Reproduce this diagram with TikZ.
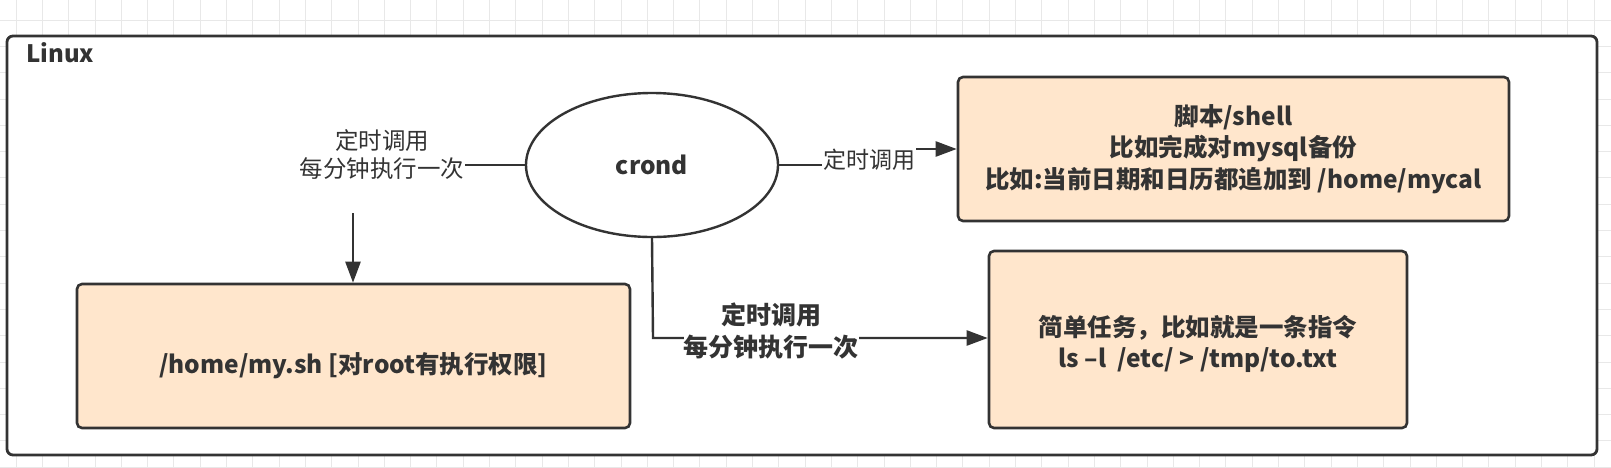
\documentclass[tikz,border=0pt]{standalone}
\usepackage{fontspec}
\setmainfont{Noto Sans CJK SC}
\usetikzlibrary{arrows.meta,shapes.geometric}
\definecolor{ink}{HTML}{333333}
\definecolor{peach}{HTML}{FFE6CC}
\definecolor{gridc}{HTML}{E8E8E8}
\tikzset{
  box/.style={draw=ink, line width=2.6pt, fill=peach, rounded corners=5pt, inner sep=0pt, text=ink, font=\fontsize{24.5}{31.5}\selectfont\bfseries, align=center},
  boxtext/.style={inner sep=0pt, text=ink, font=\fontsize{24.5}{31.5}\selectfont\bfseries, align=center},
  conn/.style={draw=ink, line width=2.4pt},
  arr/.style={conn, -{Triangle[length=21pt,width=15pt]}},
  lbl/.style={text=ink, inner sep=1pt, align=center, font=\fontsize{23.5}{28}\selectfont},
}
\begin{document}
\begin{tikzpicture}[x=1pt,y=-1pt]
\useasboundingbox (0,0) rectangle (1611,467);
\fill[white] (0,0) rectangle (1611,467);
\foreach \i in {0,...,61} {\draw[gridc, line width=0.8pt] (16+26.3*\i,0) -- (16+26.3*\i,467);}
\foreach \j in {0,...,17} {\draw[gridc, line width=0.8pt] (0,20+26.3*\j) -- (1611,20+26.3*\j);}
\node[draw=ink, line width=2.8pt, fill=white, rounded corners=6pt, minimum width=1590pt, minimum height=419pt, inner sep=0pt] (linux) at (802,245.5) {};
\node[anchor=west, text=ink, font=\fontsize{24}{26}\selectfont\bfseries, inner sep=0pt] (title) at (26,53) {Linux};
\node[draw=ink, line width=2.4pt, ellipse, minimum width=252pt, minimum height=144pt, inner sep=0pt, text=ink, font=\fontsize{24.5}{28}\selectfont\bfseries] (crond) at (652,165) {crond};
\node[box, minimum width=553pt, minimum height=144pt] (mysh) at (353.5,356) {};
\node[boxtext] (myshtxt) at (353.5,366) {/home/my.sh [对root有执行权限]};
\node[box, minimum width=551pt, minimum height=144pt] (script) at (1233.5,149) {脚本/shell\\比如完成对mysql备份\\比如:当前日期和日历都追加到 /home/mycal};
\node[box, minimum width=418pt, minimum height=177pt] (simple) at (1198,339.5) {};
\node[boxtext] (simpletxt) at (1198,344) {简单任务，比如就是一条指令\\ls –l~ /etc/ > /tmp/to.txt};
% left connector
\node[lbl] (lblL) at (382,155) {定时调用\\每分钟执行一次};
\coordinate (lstart) at (353,213);
\draw[conn] (crond.west) -- (lblL.east |- crond.west);
\draw[arr] (lstart) -- (mysh.north -| lstart);
% top right connector
\node[lbl, font=\fontsize{23}{26}\selectfont] (lblR) at (869,160) {定时调用};
\draw[conn] (crond.east) -- (lblR.west |- crond.east);
\draw[arr] (lblR.east |- script.west) -- (script.west);
% bottom connector
\coordinate (corner) at (653,338);
\draw[arr] (crond.south) -- (corner) -- (simple.west |- corner);
\node[lbl, fill=white, font=\fontsize{25}{32}\selectfont\bfseries, anchor=south, inner sep=0pt] (lblB) at (771,359) {定时调用\\每分钟执行一次};
\end{tikzpicture}
\end{document}
